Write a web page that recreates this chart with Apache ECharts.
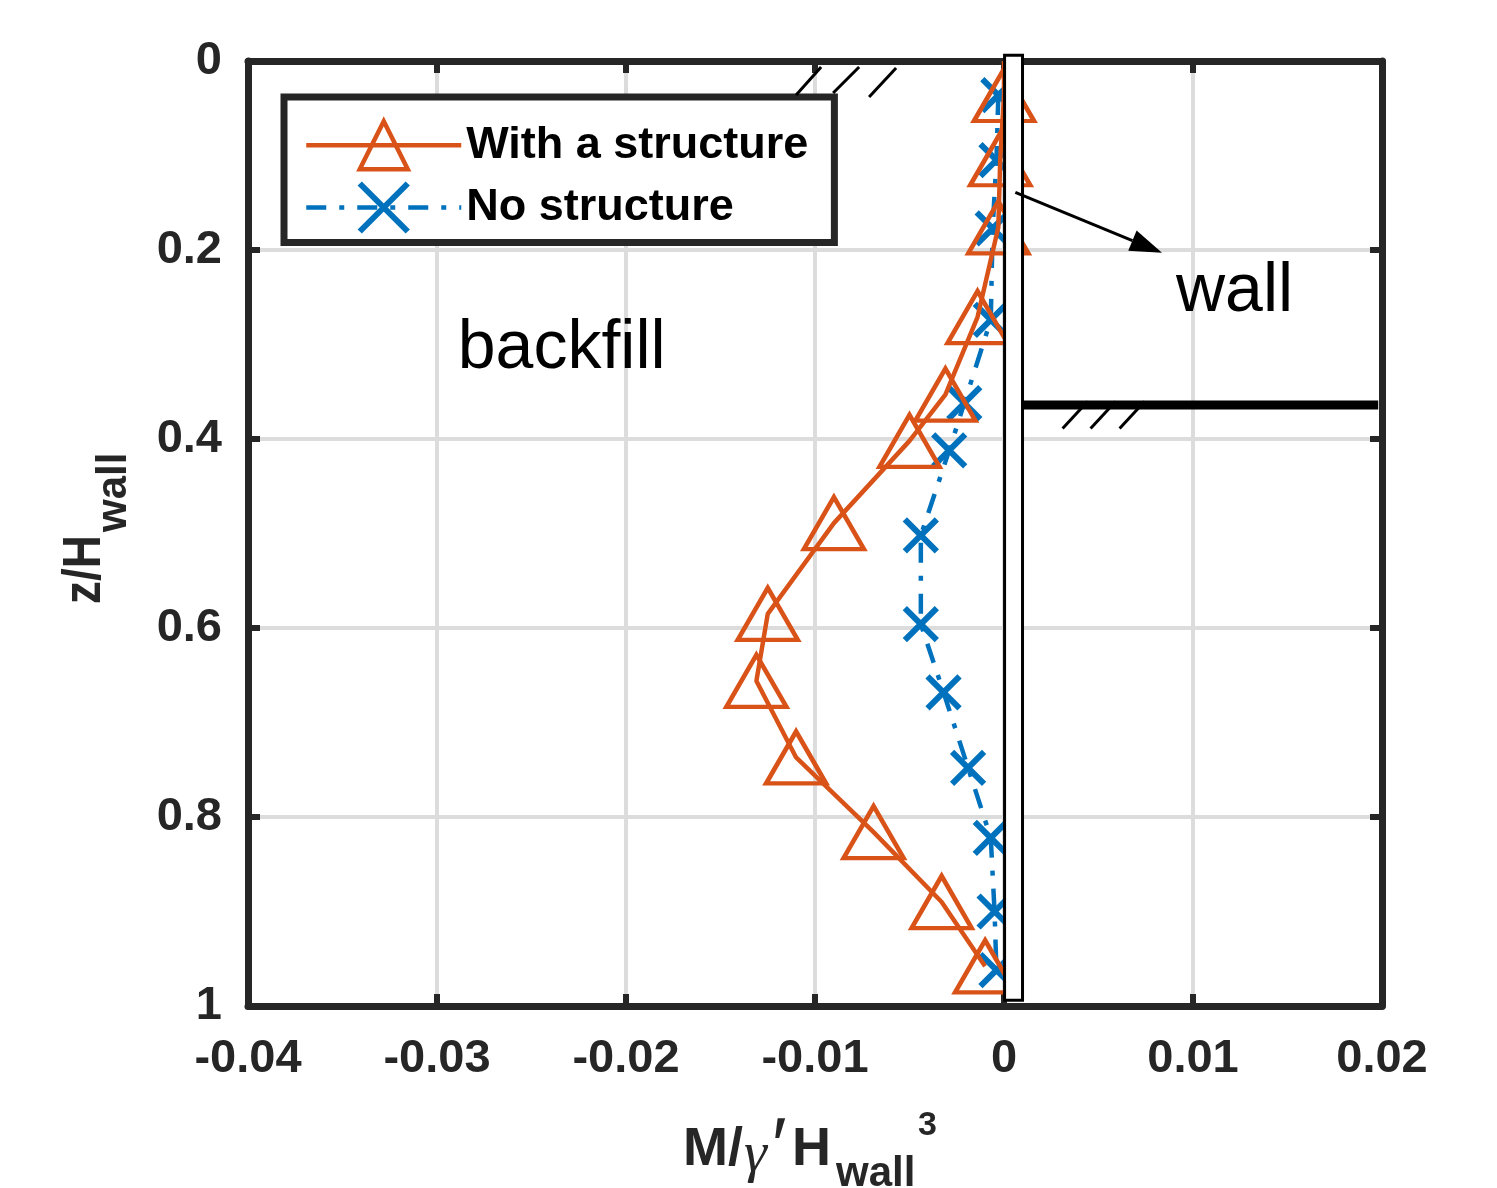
<!DOCTYPE html>
<html>
<head>
<meta charset="utf-8">
<script src="https://cdn.jsdelivr.net/npm/echarts@6/dist/echarts.min.js"></script>
<style>
  html, body { margin: 0; padding: 0; background: #fff; }
  #chart { width: 1497px; height: 1188px; }
</style>
</head>
<body>
<div id="chart"></div>
<script>
// bending moment vs depth
const withZ = [0, 0.036, 0.104, 0.176, 0.271, 0.353, 0.402, 0.489, 0.585, 0.656, 0.737, 0.816, 0.890, 0.958];
const withM = [0, 0, -0.0002, -0.0003, -0.0014, -0.0031, -0.0050, -0.0090, -0.0125, -0.0131, -0.0110, -0.0069, -0.0033, -0.0010];
const noZ = [0.036, 0.105, 0.177, 0.274, 0.362, 0.412, 0.502, 0.596, 0.668, 0.748, 0.822, 0.900, 0.962];
const noM = [-0.0003, -0.0004, -0.0006, -0.0007, -0.0021, -0.0029, -0.0044, -0.0044, -0.0032, -0.0019, -0.0007, -0.0005, -0.0004];
const seriesNames = ['With a structure', 'No structure'];
const xTicks = [-0.04, -0.03, -0.02, -0.01, 0, 0.01, 0.02];
const zTicks = [0, 0.2, 0.4, 0.6, 0.8, 1];

const orange = '#D95319';
const blue = '#0072BD';
const dark = '#262626';
const gridGray = '#dcdcdc';
const sans = "'Liberation Sans', Arial, sans-serif";

const chart = echarts.init(document.getElementById('chart'));

const tickLabel = (ticks) => (v) => {
  const t = ticks.find(k => Math.abs(k - v) < 1e-9);
  return t === undefined ? '' : String(t);
};

const boxAxis = {
  axisLine: { show: true, onZero: false, lineStyle: { color: dark, width: 7 } },
  axisTick: { show: true, inside: true, length: 12, lineStyle: { color: dark, width: 6 } },
};

const orangeLine = { color: orange, width: 4.5 };
const orangeItem = { color: 'rgba(0,0,0,0)', borderColor: orange, borderWidth: 4.5 };
const blueLine = { color: blue, width: 4.5, type: [20, 13, 5, 13] };
const blueItem = { color: 'rgba(0,0,0,0)', borderColor: blue, borderWidth: 6 };

const option = {
  animation: false,
  backgroundColor: '#fff',
  grid: { left: 248, right: 115, top: 61, bottom: 182, outerBoundsMode: 'none' },
  legend: {
    data: [
      { name: seriesNames[0], lineStyle: orangeLine, itemStyle: orangeItem },
      { name: seriesNames[1], lineStyle: blueLine, itemStyle: blueItem }
    ],
    orient: 'vertical',
    left: 284,
    top: 97,
    itemWidth: 155,
    itemHeight: 60,
    itemGap: 9,
    padding: [22, 26, 8, 20],
    borderColor: dark,
    borderWidth: 7,
    backgroundColor: '#fff',
    textStyle: { fontFamily: sans, fontWeight: 'bold', fontSize: 45, color: '#000' }
  },
  xAxis: [
    {
      type: 'value', position: 'bottom', min: -0.04, max: 0.02, interval: 0.01,
      ...boxAxis,
      splitLine: { show: true, lineStyle: { color: gridGray, width: 4 } },
      axisLabel: { margin: 30, fontFamily: sans, fontWeight: 'bold', fontSize: 47, color: dark, formatter: tickLabel(xTicks) }
    },
    {
      type: 'value', position: 'top', min: -0.04, max: 0.02, interval: 0.01,
      ...boxAxis,
      splitLine: { show: false },
      axisLabel: { show: false }
    }
  ],
  yAxis: [
    {
      type: 'value', position: 'left', inverse: true, min: 0, max: 1, interval: 0.2,
      ...boxAxis,
      splitLine: { show: true, lineStyle: { color: gridGray, width: 4 } },
      axisLabel: { margin: 26, fontFamily: sans, fontWeight: 'bold', fontSize: 47, color: dark, formatter: tickLabel(zTicks) }
    },
    {
      type: 'value', position: 'right', inverse: true, min: 0, max: 1, interval: 0.2,
      ...boxAxis,
      splitLine: { show: false },
      axisLabel: { show: false }
    }
  ],
  series: [
    {
      name: seriesNames[0],
      type: 'line',
      data: withM.map((m, i) => (withZ[i] === 0 ? { value: [m, withZ[i]], symbol: 'none' } : [m, withZ[i]])),
      symbol: 'triangle',
      symbolSize: [60, 52],
      showAllSymbol: true,
      lineStyle: orangeLine,
      itemStyle: orangeItem,
      z: 3
    },
    {
      name: seriesNames[1],
      type: 'line',
      data: noM.map((m, i) => [m, noZ[i]]),
      symbol: 'path://M0,0L10,10M10,0L0,10',
      symbolSize: 32,
      showAllSymbol: true,
      lineStyle: blueLine,
      itemStyle: blueItem,
      z: 2
    }
  ]
};

chart.setOption(option);

// sketch of the wall, ground lines, arrow and labels placed in data coordinates
const px = (x, z) => chart.convertToPixel({ gridIndex: 0 }, [x, z]);

const wallTL = px(0.00003, -0.006);
const wallBR = px(0.00098, 0.994);
const groundL = px(0.00098, 0.364);
const groundR = px(0.0198, 0.364);
const arrowFrom = px(0.0006, 0.139);
const arrowTo = px(0.00836, 0.203);
const backfillAt = px(-0.0289, 0.305);
const wallTextAt = px(0.0091, 0.245);
const topHatchStart = px(-0.0110, 0.036);
const rightHatchStart = px(0.0031, 0.389);

const hatch = (x, y, dx, dy) => ({
  type: 'line', z: 100,
  shape: { x1: x, y1: y, x2: x + dx, y2: y + dy },
  style: { stroke: '#000', lineWidth: 3 }
});

const ang = Math.atan2(arrowTo[1] - arrowFrom[1], arrowTo[0] - arrowFrom[0]);
const headLen = 32, headHalf = 11;
const baseX = arrowTo[0] - headLen * Math.cos(ang);
const baseY = arrowTo[1] - headLen * Math.sin(ang);

const graphic = [
  // wall
  {
    type: 'rect', z: 100,
    shape: { x: wallTL[0], y: wallTL[1], width: wallBR[0] - wallTL[0], height: wallBR[1] - wallTL[1] },
    style: { fill: '#fff', stroke: '#000', lineWidth: 3 }
  },
  // excavation level on the right
  {
    type: 'line', z: 100,
    shape: { x1: groundL[0], y1: groundL[1], x2: groundR[0], y2: groundR[1] },
    style: { stroke: '#000', lineWidth: 9 }
  },
  hatch(rightHatchStart[0], rightHatchStart[1], 25, -27),
  hatch(rightHatchStart[0] + 28, rightHatchStart[1], 25, -27),
  hatch(rightHatchStart[0] + 57, rightHatchStart[1], 25, -27),
  // ground surface hatches
  hatch(topHatchStart[0], topHatchStart[1], 25, -28),
  hatch(topHatchStart[0] + 37, topHatchStart[1] - 2, 26, -26),
  hatch(topHatchStart[0] + 73, topHatchStart[1] + 2, 27, -29),
  // arrow
  {
    type: 'line', z: 100,
    shape: { x1: arrowFrom[0], y1: arrowFrom[1], x2: baseX, y2: baseY },
    style: { stroke: '#000', lineWidth: 3 }
  },
  {
    type: 'polygon', z: 100,
    shape: {
      points: [
        arrowTo,
        [baseX + headHalf * Math.sin(ang), baseY - headHalf * Math.cos(ang)],
        [baseX - headHalf * Math.sin(ang), baseY + headHalf * Math.cos(ang)]
      ]
    },
    style: { fill: '#000' }
  },
  {
    type: 'text', z: 100, x: backfillAt[0], y: backfillAt[1],
    style: { text: 'backfill', font: '68px ' + sans, fill: '#000', verticalAlign: 'middle' }
  },
  {
    type: 'text', z: 100, x: wallTextAt[0], y: wallTextAt[1],
    style: { text: 'wall', font: '68px ' + sans, fill: '#000', verticalAlign: 'middle' }
  },
  // x axis title: M/γ'H_wall^3
  { type: 'text', z: 100, x: 683, y: 1150, style: { text: 'M/', font: 'bold 54px ' + sans, fill: dark, verticalAlign: 'middle' } },
  { type: 'text', z: 100, x: 744, y: 1156, style: { text: 'γ', font: 'italic 58px "Liberation Serif", serif', fill: dark, verticalAlign: 'middle' } },
  { type: 'text', z: 100, x: 772, y: 1150, style: { text: '′', font: '78px ' + sans, fill: dark, verticalAlign: 'middle' } },
  { type: 'text', z: 100, x: 792, y: 1150, style: { text: 'H', font: 'bold 54px ' + sans, fill: dark, verticalAlign: 'middle' } },
  { type: 'text', z: 100, x: 836, y: 1174, style: { text: 'wall', font: 'bold 42px ' + sans, fill: dark, verticalAlign: 'middle' } },
  { type: 'text', z: 100, x: 918, y: 1126, style: { text: '3', font: 'bold 34px ' + sans, fill: dark, verticalAlign: 'middle' } },
  // y axis title: z/H_wall, rotated
  {
    type: 'group', x: 102, y: 604, rotation: Math.PI / 2, z: 100,
    children: [
      { type: 'text', x: 0, y: -17, scaleX: 0.85, style: { text: 'z/H', font: 'bold 54px ' + sans, fill: dark, verticalAlign: 'middle' } },
      { type: 'text', x: 72, y: 12, style: { text: 'wall', font: 'bold 42px ' + sans, fill: dark, verticalAlign: 'middle' } }
    ]
  }
];

chart.setOption({ graphic: graphic });
</script>
</body>
</html>
